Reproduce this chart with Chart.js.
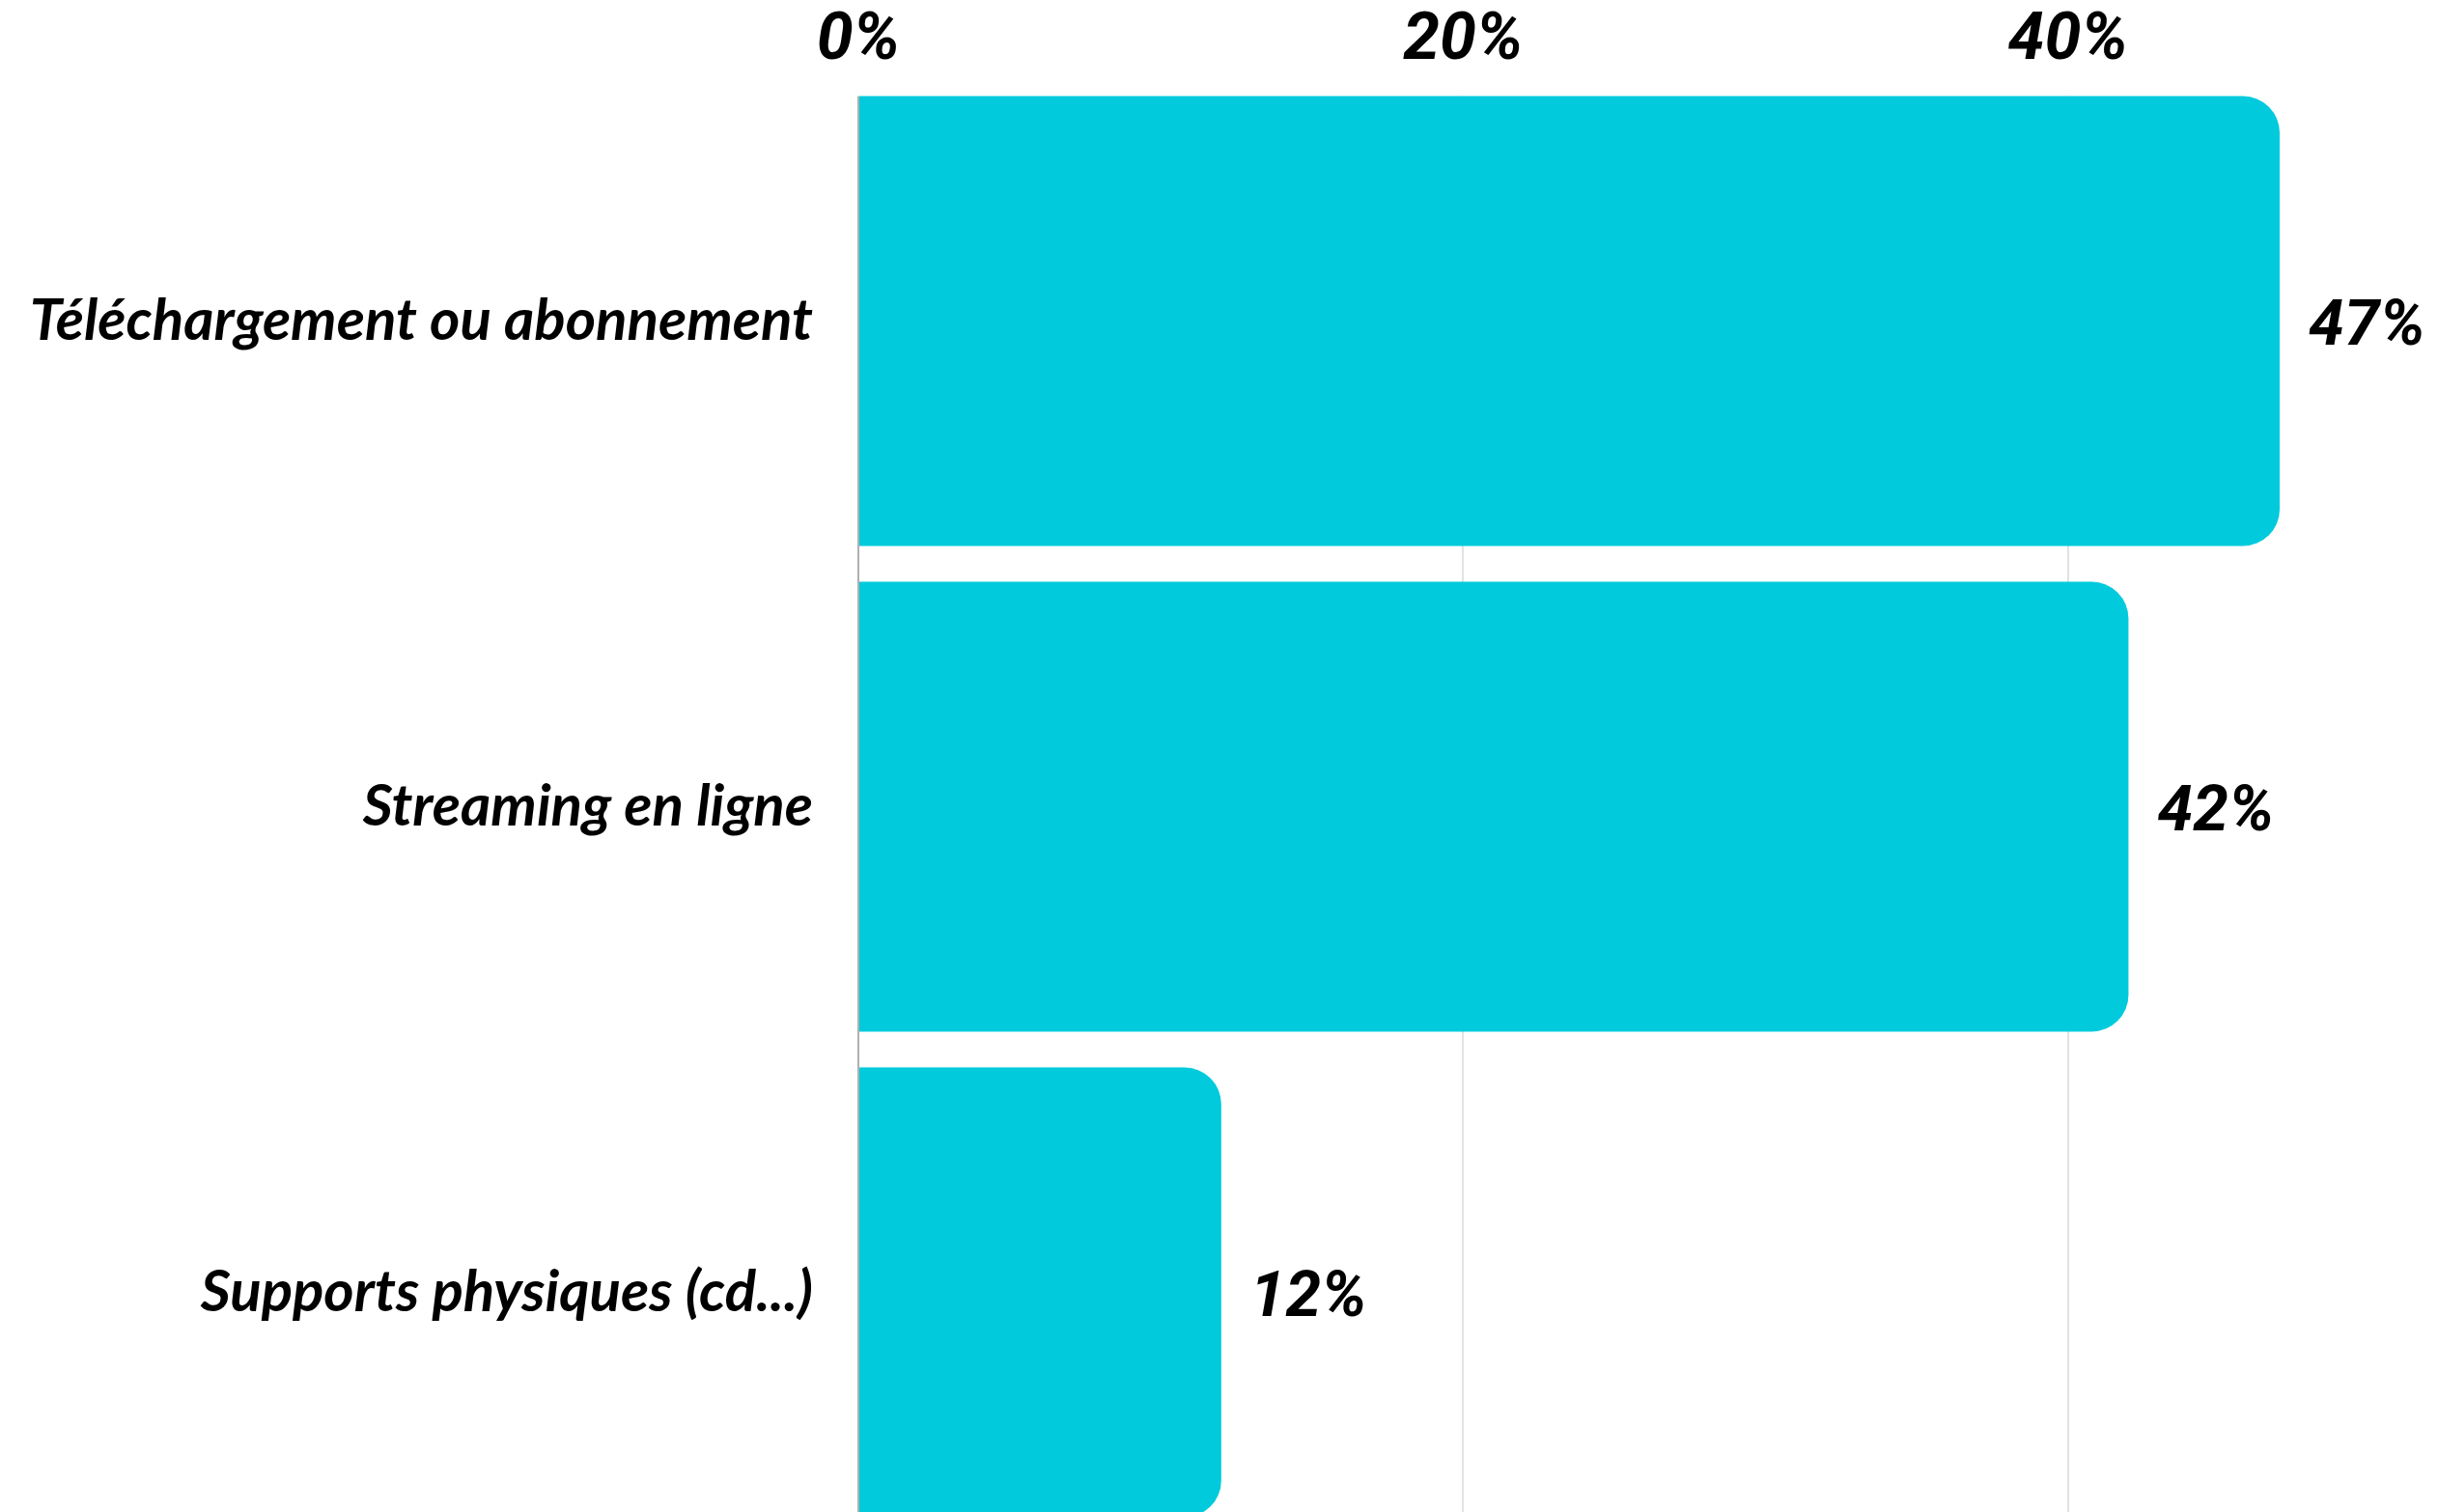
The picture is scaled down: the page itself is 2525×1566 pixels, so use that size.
<!DOCTYPE html>
<html>
<head>
<meta charset="utf-8">
<script src="https://cdn.jsdelivr.net/npm/chart.js@4"></script>
<style>
  html, body { margin: 0; padding: 0; background: #ffffff; overflow: hidden; }
  canvas { display: block; }
</style>
</head>
<body>
<canvas id="usage-chart" width="2525" height="1590"></canvas>
<script>
// Chart data
const categories = ['Téléchargement ou abonnement', 'Streaming en ligne', 'Supports physiques (cd...)'];
const values = [47, 42, 12];
const tickValues = [0, 20, 40];

const barColor = '#00CADC';
const numberFont = "Roboto, 'Liberation Sans', sans-serif";
const labelFont = "Lato, 'Noto Sans', sans-serif";

// Hide the grid above the first bar, like in the original
const topMask = {
    id: 'topMask',
    beforeDatasetsDraw(chart) {
        const area = chart.chartArea;
        const first = chart.getDatasetMeta(0).data[0];
        if (!first) return;
        const ctx = chart.ctx;
        ctx.save();
        ctx.fillStyle = '#ffffff';
        ctx.fillRect(area.left - 3, area.top - 2, area.right - area.left + 6, first.y - first.height / 2 - area.top + 2);
        ctx.restore();
    }
};

// Draw the value next to the end of each bar
const valueLabels = {
    id: 'valueLabels',
    afterDatasetsDraw(chart) {
        const ctx = chart.ctx;
        const meta = chart.getDatasetMeta(0);
        ctx.save();
        ctx.fillStyle = '#000000';
        ctx.font = 'italic bold 66px ' + numberFont;
        ctx.textAlign = 'left';
        ctx.textBaseline = 'alphabetic';
        meta.data.forEach((bar, i) => {
            ctx.fillText(values[i] + '%', bar.x + 30, bar.y + 24);
        });
        ctx.restore();
    }
};

function initUsageChart() {
    const ctx = document.getElementById('usage-chart').getContext('2d');

    const data = {
        labels: categories,
        datasets: [{
            data: values,
            backgroundColor: barColor,
            borderWidth: 0,
            borderRadius: 38,
            borderSkipped: 'start',
            categoryPercentage: 0.926,
            barPercentage: 1
        }]
    };

    const config = {
        type: 'bar',
        data: data,
        options: {
            indexAxis: 'y',
            responsive: false,
            devicePixelRatio: 1,
            animation: false,
            layout: {
                padding: { top: 0, right: 70, bottom: 0, left: 0 }
            },
            plugins: {
                legend: { display: false },
                tooltip: { enabled: false }
            },
            scales: {
                x: {
                    position: 'top',
                    min: 0,
                    max: 50,
                    afterBuildTicks: function(scale) {
                        scale.ticks = tickValues.map(v => ({ value: v }));
                    },
                    afterFit: function(scale) {
                        scale.height = 81;
                    },
                    ticks: {
                        padding: -4,
                        color: '#000000',
                        font: { family: numberFont, size: 68, style: 'italic', weight: 'bold' },
                        callback: function(value) {
                            return value + '%';
                        }
                    },
                    grid: {
                        color: '#e2e2e2',
                        lineWidth: 2,
                        drawTicks: false
                    },
                    border: { display: false }
                },
                y: {
                    afterFit: function(scale) {
                        scale.width = 889;
                        scale.paddingTop = 0;
                        scale.paddingBottom = 0;
                    },
                    ticks: {
                        padding: 47,
                        color: '#000000',
                        font: { family: labelFont, size: 60, style: 'italic', weight: 'bold' }
                    },
                    grid: {
                        display: false,
                        drawTicks: false
                    },
                    border: {
                        display: true,
                        color: '#b0b0b0',
                        width: 2
                    }
                }
            }
        },
        plugins: [topMask, valueLabels]
    };

    new Chart(ctx, config);
}

document.addEventListener('DOMContentLoaded', function() {
    initUsageChart();
});
</script>
</body>
</html>
